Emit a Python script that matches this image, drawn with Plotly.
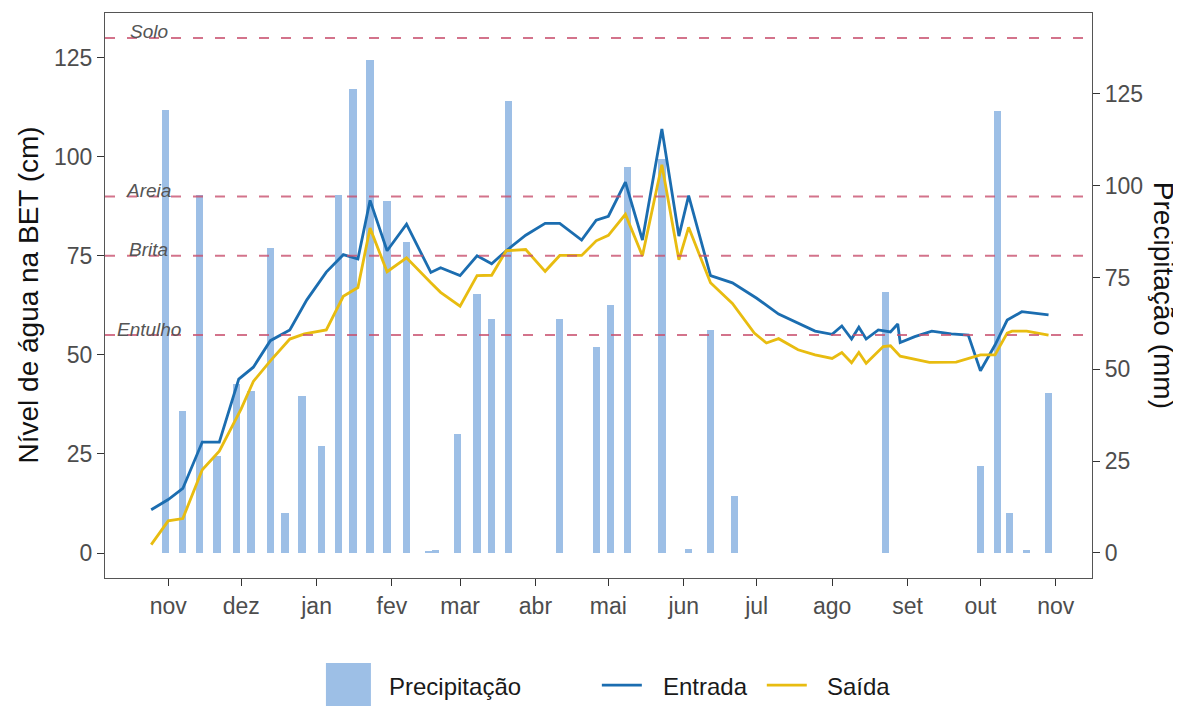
import plotly.graph_objects as go

# ---------------- data ----------------
bar_dates = ["2018-10-31", "2018-11-07", "2018-11-14", "2018-11-21", "2018-11-29",
             "2018-12-05", "2018-12-13", "2018-12-19", "2018-12-26", "2019-01-03",
             "2019-01-10", "2019-01-16", "2019-01-23", "2019-01-30", "2019-02-07",
             "2019-02-16", "2019-02-19", "2019-02-28", "2019-03-08", "2019-03-14",
             "2019-03-21", "2019-04-11", "2019-04-26", "2019-05-02", "2019-05-09",
             "2019-05-23", "2019-06-03", "2019-06-12", "2019-06-22", "2019-08-23",
             "2019-10-01", "2019-10-08", "2019-10-13", "2019-10-20", "2019-10-29"]
precip_mm = [120.5, 38.7, 97.4, 26.4, 46.0,
             44.2, 83.0, 11.0, 42.8, 29.2,
             97.4, 126.4, 134.1, 95.7, 84.6,
             0.5, 0.7, 32.4, 70.6, 63.8,
             123.0, 63.8, 56.1, 67.5, 105.2,
             107.3, 1.1, 60.6, 15.5, 71.0,
             23.6, 120.4, 10.9, 0.8, 43.5]

entrada_dates = ["2018-10-25", "2018-11-01", "2018-11-07", "2018-11-15", "2018-11-22",
                 "2018-11-30", "2018-12-06", "2018-12-13", "2018-12-21", "2018-12-28",
                 "2019-01-05", "2019-01-12", "2019-01-18", "2019-01-23", "2019-01-30",
                 "2019-02-07", "2019-02-17", "2019-02-21", "2019-03-01", "2019-03-08",
                 "2019-03-14", "2019-03-20", "2019-03-28", "2019-04-05", "2019-04-11",
                 "2019-04-20", "2019-04-26", "2019-05-01", "2019-05-08", "2019-05-15",
                 "2019-05-23", "2019-05-30", "2019-06-03", "2019-06-12", "2019-06-21",
                 "2019-07-01", "2019-07-10", "2019-07-17", "2019-07-25", "2019-08-01",
                 "2019-08-05", "2019-08-09", "2019-08-12", "2019-08-15", "2019-08-20",
                 "2019-08-25", "2019-08-28", "2019-08-29", "2019-09-04", "2019-09-11",
                 "2019-09-19", "2019-09-26", "2019-10-01", "2019-10-07", "2019-10-12",
                 "2019-10-18", "2019-10-29"]
entrada_cm = [10.9, 13.5, 16.3, 28.0, 28.0,
              43.9, 46.9, 53.6, 56.3, 63.9,
              70.9, 75.3, 74.2, 89.0, 76.3,
              83.0, 70.8, 72.0, 70.0, 75.0,
              73.0, 76.3, 80.2, 83.2, 83.2,
              79.0, 84.0, 85.0, 93.6, 79.0,
              107.0, 80.0, 90.2, 70.0, 68.2,
              64.3, 60.3, 58.3, 56.0, 55.2,
              57.3, 54.0, 57.0, 54.0, 56.3,
              55.8, 57.8, 53.1, 54.6, 56.0,
              55.3, 55.0, 46.0, 52.5, 58.8,
              60.9, 60.1]

saida_dates = ["2018-10-25", "2018-11-01", "2018-11-07", "2018-11-15", "2018-11-22",
               "2018-12-01", "2018-12-06", "2018-12-13", "2018-12-21", "2018-12-27",
               "2019-01-05", "2019-01-12", "2019-01-18", "2019-01-23", "2019-01-30",
               "2019-02-07", "2019-02-17", "2019-02-21", "2019-03-01", "2019-03-08",
               "2019-03-14", "2019-03-20", "2019-03-28", "2019-04-05", "2019-04-11",
               "2019-04-20", "2019-04-26", "2019-05-01", "2019-05-08", "2019-05-15",
               "2019-05-23", "2019-05-30", "2019-06-03", "2019-06-12", "2019-06-21",
               "2019-06-30", "2019-07-05", "2019-07-10", "2019-07-18", "2019-07-25",
               "2019-08-01", "2019-08-05", "2019-08-09", "2019-08-12", "2019-08-15",
               "2019-08-22", "2019-08-25", "2019-08-29", "2019-09-10", "2019-09-21",
               "2019-10-01", "2019-10-07", "2019-10-12", "2019-10-14", "2019-10-20",
               "2019-10-29"]
saida_cm = [2.1, 8.1, 8.7, 21.0, 25.7,
            36.4, 43.3, 48.5, 54.0, 55.3,
            56.3, 64.8, 67.0, 82.0, 71.0,
            74.5, 68.2, 65.8, 62.3, 70.0,
            70.1, 76.3, 76.6, 71.1, 75.1,
            75.1, 78.8, 80.2, 85.5, 75.0,
            98.0, 74.0, 82.2, 68.2, 63.0,
            55.5, 53.0, 54.1, 51.3, 50.0,
            49.1, 50.6, 48.0, 50.6, 47.9,
            52.1, 52.3, 49.7, 48.1, 48.2,
            50.0, 50.0, 55.5, 56.0, 56.0,
            55.0]

ref_names = ["Solo", "Areia", "Brita", "Entulho"]
ref_levels_cm = [130, 90, 75, 55]
ref_label_date = "2018-10-24"

month_ticks = ["2018-11-01", "2018-12-01", "2019-01-01", "2019-02-01", "2019-03-01",
               "2019-04-01", "2019-05-01", "2019-06-01", "2019-07-01", "2019-08-01",
               "2019-09-01", "2019-10-01", "2019-11-01"]
month_labels = ["nov", "dez", "jan", "fev", "mar", "abr", "mai", "jun", "jul",
                "ago", "set", "out", "nov"]
cm_ticks = [0, 25, 50, 75, 100, 125]
mm_ticks = [0, 25, 50, 75, 100, 125]

# ---------------- style ----------------
FONT = "Liberation Sans, Arial, sans-serif"
BAR_COLOR = "#9dbfe6"
BLUE = "#1b6db0"
YELLOW = "#e8bc10"
DASH_COLOR = "rgba(200,80,110,0.8)"
TICK_COLOR = "#4d4d4d"

# the browser body adds an 8 px margin around the figure
W, H = 1173, 719
PL, PR, PT, PB = 97, 89, 5, 149   # -> panel at x 105..1092, y 13..578 in the window

fig = go.Figure()

fig.add_trace(go.Bar(
    x=bar_dates, y=precip_mm, yaxis="y", xaxis="x",
    marker=dict(color=BAR_COLOR, line=dict(width=0)),
    width=3 * 86400000, name="Precipitação", showlegend=False,
))
fig.add_trace(go.Scatter(
    x=entrada_dates, y=entrada_cm, yaxis="y2", mode="lines",
    line=dict(color=BLUE, width=2.8), name="Entrada", showlegend=False,
))
fig.add_trace(go.Scatter(
    x=saida_dates, y=saida_cm, yaxis="y2", mode="lines",
    line=dict(color=YELLOW, width=2.8), name="Saída", showlegend=False,
))

shapes = []
annotations = []
for name, lvl in zip(ref_names, ref_levels_cm):
    shapes.append(dict(type="line", xref="paper", x0=0, x1=1, yref="y2", y0=lvl, y1=lvl,
                       line=dict(color=DASH_COLOR, width=2, dash="10px,12px"), layer="above"))
    annotations.append(dict(x=ref_label_date, y=lvl, xref="x", yref="y2",
                            text="<i>" + name + "</i>",
                            showarrow=False, xanchor="center", yanchor="middle", yshift=6,
                            font=dict(family=FONT, size=19, color="#555555")))

# axis titles
annotations.append(dict(x=-0.078, y=0.5, xref="paper", yref="paper",
                        text="Nível de água na BET (cm)", textangle=-90, showarrow=False,
                        xanchor="center", yanchor="middle",
                        font=dict(family=FONT, size=28, color="#111111")))
annotations.append(dict(x=1.0726, y=0.5, xref="paper", yref="paper",
                        text="Precipitação (mm)", textangle=90, showarrow=False,
                        xanchor="center", yanchor="middle",
                        font=dict(family=FONT, size=28, color="#111111")))

# manual legend (paper coordinates from window pixels)
def px_x(p):
    return (p - 105) / (1092.3 - 105)

def px_y(p):
    return (578 - p) / (578 - 13.3)

shapes.append(dict(type="rect", xref="paper", yref="paper",
                   x0=px_x(326), x1=px_x(371), y0=px_y(706), y1=px_y(663),
                   fillcolor=BAR_COLOR, line=dict(width=0)))
shapes.append(dict(type="line", xref="paper", yref="paper",
                   x0=px_x(602), x1=px_x(642), y0=px_y(685), y1=px_y(685),
                   line=dict(color=BLUE, width=2.8)))
shapes.append(dict(type="line", xref="paper", yref="paper",
                   x0=px_x(767), x1=px_x(807), y0=px_y(685), y1=px_y(685),
                   line=dict(color=YELLOW, width=2.8)))
for label, xp in [("Precipitação", 387), ("Entrada", 661), ("Saída", 825)]:
    annotations.append(dict(x=px_x(xp), y=px_y(686), xref="paper", yref="paper",
                            text=label, showarrow=False, xanchor="left", yanchor="middle",
                            font=dict(family=FONT, size=24, color="#1a1a1a")))

axis_common = dict(ticks="outside", ticklen=7, tickwidth=1.3, tickcolor="#333333",
                   tickfont=dict(family=FONT, size=23, color=TICK_COLOR),
                   showline=True, linecolor="#555555", linewidth=1.3,
                   showgrid=False, zeroline=False)

fig.update_layout(
    width=W, height=H,
    margin=dict(l=PL, r=PR, t=PT, b=PB, pad=0),
    paper_bgcolor="white", plot_bgcolor="white",
    font=dict(family=FONT, size=23, color=TICK_COLOR),
    showlegend=False,
    bargap=0,
    xaxis=dict(type="date", range=["2018-10-06", "2019-11-15 21:00"],
               tickvals=month_ticks, ticktext=month_labels, mirror=True, **axis_common),
    yaxis=dict(side="right", range=[-6.81, 147.0], tickvals=mm_ticks, mirror=True,
               **axis_common),
    yaxis2=dict(side="left", overlaying="y", anchor="x", range=[-6.31, 136.3],
                tickvals=cm_ticks, **axis_common),
    shapes=shapes,
    annotations=annotations,
)

fig.write_html("out.html")
